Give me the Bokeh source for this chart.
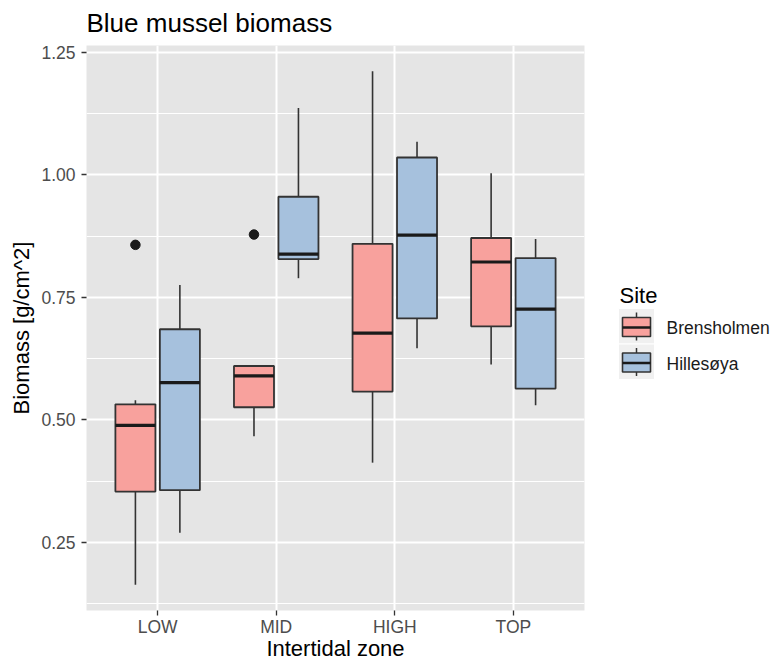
from bokeh.plotting import figure
from bokeh.models import ColumnDataSource, FactorRange, Range1d, FixedTicker, PrintfTickFormatter
from bokeh.transform import dodge
from bokeh.layouts import row
from bokeh.core.properties import value
from bokeh.embed import file_html
from bokeh.resources import INLINE

# ---------------- data ----------------
zones = ["LOW", "MID", "HIGH", "TOP"]
sites = ["Brensholmen", "Hillesøya"]
site_colors = ["#F8A19D", "#A6C1DD"]

bren_lower = [0.164, 0.467, 0.413, 0.613]
bren_q1 = [0.354, 0.526, 0.558, 0.691]
bren_median = [0.489, 0.590, 0.677, 0.822]
bren_q3 = [0.532, 0.610, 0.859, 0.871]
bren_upper = [0.540, 0.612, 1.211, 1.003]

hill_lower = [0.270, 0.789, 0.646, 0.530]
hill_q1 = [0.357, 0.828, 0.707, 0.564]
hill_median = [0.576, 0.838, 0.877, 0.726]
hill_q3 = [0.685, 0.955, 1.035, 0.830]
hill_upper = [0.775, 1.136, 1.067, 0.869]

outlier_zone = ["LOW", "MID"]
outlier_site = ["Brensholmen", "Brensholmen"]
outlier_value = [0.857, 0.878]

y_ticks = [0.25, 0.50, 0.75, 1.00, 1.25]
y_minor_ticks = [0.125, 0.375, 0.625, 0.875, 1.125]

title_text = "Blue mussel biomass"
x_title = "Intertidal zone"
y_title = "Biomass [g/cm^2]"
legend_title = "Site"

# ---------------- style ----------------
FONT = "Liberation Sans"
PANEL_BG = "#E5E5E5"
LINE = "#333333"
DODGE = 0.1875
BOX_W = 0.3375
FRAME_TOP, FRAME_H = 45, 565

series = [
    dict(lower=bren_lower, q1=bren_q1, med=bren_median, q3=bren_q3, upper=bren_upper),
    dict(lower=hill_lower, q1=hill_q1, med=hill_median, q3=hill_q3, upper=hill_upper),
]
offsets = [-DODGE, DODGE]

all_vals = bren_lower + bren_upper + hill_lower + hill_upper + outlier_value
lo, hi = min(all_vals), max(all_vals)
span = hi - lo

x_range = FactorRange(factors=zones, range_padding=0.1, range_padding_units="absolute")
y_range = Range1d(lo - 0.05 * span, hi + 0.05 * span)

p = figure(x_range=x_range, y_range=y_range, frame_width=498, frame_height=FRAME_H,
           output_backend="svg", toolbar_location=None,
           min_border_left=86, min_border_right=6, min_border_top=FRAME_TOP, min_border_bottom=20,
           title=title_text)

p.background_fill_color = PANEL_BG
p.border_fill_color = "white"
p.outline_line_color = None

p.title.text_font = FONT
p.title.text_font_size = "26px"
p.title.text_font_style = "normal"
p.title.text_color = "black"
p.title.align = "left"
p.title.vertical_align = "top"
p.title.standoff = 11

p.yaxis.ticker = FixedTicker(ticks=y_ticks, minor_ticks=y_minor_ticks)
p.yaxis.formatter = PrintfTickFormatter(format="%.2f")

for ax in (p.xaxis[0], p.yaxis[0]):
    ax.axis_line_color = None
    ax.major_tick_line_color = LINE
    ax.major_tick_line_width = 1.3
    ax.major_tick_out = 5
    ax.major_tick_in = 0
    ax.minor_tick_line_color = None
    ax.major_label_text_font = FONT
    ax.major_label_text_font_size = "17.5px"
    ax.major_label_text_color = "#4D4D4D"
    ax.axis_label_text_font = FONT
    ax.axis_label_text_font_size = "22px"
    ax.axis_label_text_font_style = "normal"
    ax.axis_label_text_color = "black"

p.xaxis.axis_label = x_title
p.yaxis.axis_label = y_title
p.xaxis.major_label_standoff = 1
p.xaxis.axis_label_standoff = -4
p.yaxis.major_label_standoff = 6
p.yaxis.axis_label_standoff = 4

p.xgrid.grid_line_color = "white"
p.xgrid.grid_line_width = 2
p.ygrid.grid_line_color = "white"
p.ygrid.grid_line_width = 2
p.ygrid.minor_grid_line_color = "white"
p.ygrid.minor_grid_line_width = 1

for i, s in enumerate(series):
    off = offsets[i]
    src = ColumnDataSource(dict(zone=zones, **s))
    p.segment(x0=dodge("zone", off, range=x_range), y0="q3",
              x1=dodge("zone", off, range=x_range), y1="upper",
              line_color=LINE, line_width=1.6, source=src)
    p.segment(x0=dodge("zone", off, range=x_range), y0="lower",
              x1=dodge("zone", off, range=x_range), y1="q1",
              line_color=LINE, line_width=1.6, source=src)
    p.vbar(x=dodge("zone", off, range=x_range), width=BOX_W, bottom="q1", top="q3",
           fill_color=site_colors[i], line_color=LINE, line_width=1.8, source=src)
    p.segment(x0=dodge("zone", off - BOX_W / 2, range=x_range), y0="med",
              x1=dodge("zone", off + BOX_W / 2, range=x_range), y1="med",
              line_color="#1A1A1A", line_width=3.2, source=src)

for i, site in enumerate(sites):
    oz = [z for z, st in zip(outlier_zone, outlier_site) if st == site]
    ov = [v for v, st in zip(outlier_value, outlier_site) if st == site]
    if oz:
        osrc = ColumnDataSource(dict(zone=oz, val=ov))
        p.scatter(x=dodge("zone", offsets[i], range=x_range), y="val", size=9.5,
                  fill_color="#1A1A1A", line_color="#1A1A1A", source=osrc)

# ---------------- legend (separate panel, frame aligned with the main frame) ----------------
LW = 185
leg = figure(frame_width=LW, frame_height=FRAME_H, x_range=Range1d(0, LW),
             y_range=Range1d(FRAME_TOP + FRAME_H, FRAME_TOP),
             output_backend="svg", toolbar_location=None, title=None,
             x_axis_location=None, y_axis_location=None,
             min_border_left=0, min_border_right=0, min_border_top=FRAME_TOP, min_border_bottom=20)
leg.grid.visible = False
leg.outline_line_color = None
leg.background_fill_color = "white"
leg.border_fill_color = "white"

key_x0, key_size, key_y0 = 28, 35.5, 308
leg.text(x=[key_x0 + 1], y=[key_y0 - 13], text=[legend_title], text_font=value(FONT),
         text_font_size="22px", text_color="black", text_baseline="alphabetic")

n = len(sites)
tops = [key_y0 + key_size * i for i in range(n)]
ksrc = ColumnDataSource(dict(
    kl=[key_x0] * n, kr=[key_x0 + 36] * n, kt=tops, kb=[t + key_size for t in tops],
    bl=[key_x0 + 4] * n, br=[key_x0 + 32] * n, bt=[t + 9 for t in tops], bb=[t + 28 for t in tops],
    wx=[key_x0 + 18] * n, wt=[t + 4 for t in tops], wb=[t + 32 for t in tops],
    med=[t + 19 for t in tops], color=site_colors, label=sites,
    lx=[key_x0 + 48] * n, ly=[t + 19.5 for t in tops],
))
leg.quad(left="kl", right="kr", top="kt", bottom="kb", fill_color="#F0F0F0",
         line_color="white", line_width=1, source=ksrc)
leg.segment(x0="wx", y0="wt", x1="wx", y1="wb", line_color=LINE, line_width=1.5, source=ksrc)
leg.quad(left="bl", right="br", top="bt", bottom="bb", fill_color="color",
         line_color=LINE, line_width=1.6, source=ksrc)
leg.segment(x0="bl", y0="med", x1="br", y1="med", line_color="#1A1A1A", line_width=2.5, source=ksrc)
leg.text(x="lx", y="ly", text="label", text_font=value(FONT), text_font_size="17.5px",
         text_color="#1A1A1A", text_baseline="middle", source=ksrc)

layout = row(p, leg)
open("out.html", "w").write(file_html(layout, INLINE))
